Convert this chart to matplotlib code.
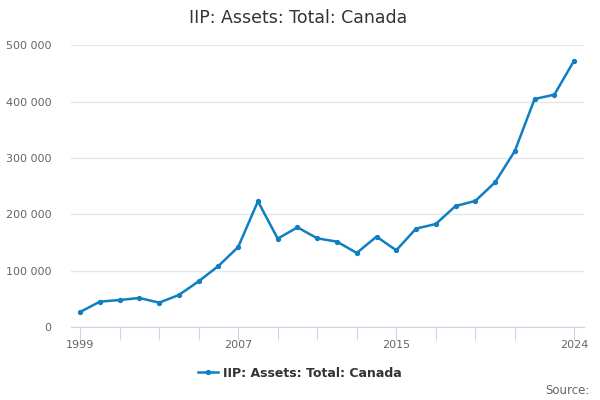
import matplotlib
matplotlib.use("Agg")
from matplotlib import pyplot as plt
from matplotlib.ticker import FuncFormatter

years = list(range(1999, 2025))
values = [26600, 45000, 47900, 51500, 43200, 56800, 81100, 108300, 142000,
          223100, 156800, 176900, 157400, 151500, 131400, 160400, 136100,
          174600, 182800, 214800, 223700, 256800, 312400, 404700, 412400,
          472800]
tick_years = [1999, 2001, 2003, 2005, 2007, 2009, 2011, 2013, 2015, 2017,
              2019, 2021, 2024]
label_years = [1999, 2007, 2015, 2024]
series_name = "IIP: Assets: Total: Canada"

line_color = "#0f7fc2"
text_gray = "#666666"

fig = plt.figure(figsize=(6, 4), dpi=100)
ax = fig.add_axes([71 / 600, 73 / 400, 513 / 600, 281.7 / 400])

ax.plot(years, values, color=line_color, linewidth=1.8, marker="o",
        markersize=2.8, label=series_name)

ax.set_xlim(1999 - 0.46, 2024.5)
ax.set_ylim(0, 500000)
ax.set_yticks([0, 100000, 200000, 300000, 400000, 500000])
ax.yaxis.set_major_formatter(
    FuncFormatter(lambda v, p: f"{int(v):,}".replace(",", " ")))
ax.grid(axis="y", color="#e6e6e6", linewidth=1)
ax.set_axisbelow(True)

ax.set_xticks(tick_years)
ax.set_xticklabels([str(y) if y in label_years else "" for y in tick_years])

for side in ["top", "right", "left"]:
    ax.spines[side].set_visible(False)
ax.spines["bottom"].set_color("#ccd6eb")
ax.tick_params(axis="y", length=0, colors=text_gray, labelsize=8, pad=14)
ax.tick_params(axis="x", length=9, color="#ccd6eb", colors=text_gray,
               labelsize=8, pad=0)

fig.text(0.497, 0.955, series_name, ha="center", va="center",
         fontsize=12.5, color="#333333")

leg = fig.legend(loc="center", bbox_to_anchor=(0.5, 0.067), frameon=False,
                 fontsize=9, handlelength=1.6, handletextpad=0.4)
for t in leg.get_texts():
    t.set_fontweight("bold")
    t.set_color("#333333")

fig.text(0.982, 0.025, "Source:", ha="right", va="center", fontsize=8.5,
         color=text_gray)

plt.savefig("out.png", dpi=100)
